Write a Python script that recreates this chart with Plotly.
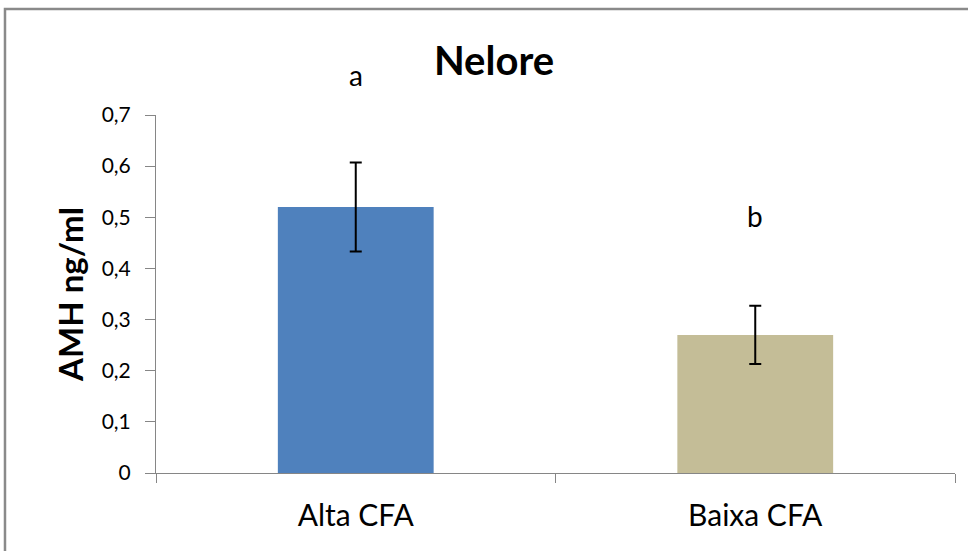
import plotly.graph_objects as go

# AMH concentration by follicle-count group (Nelore cattle)
categories = ["Alta CFA", "Baixa CFA"]
amh_means = [0.52, 0.27]
amh_err = [0.087, 0.057]
bar_colors = ["#4f81bd", "#c4bd97"]
sig_letters = ["a", "b"]
sig_letter_y = [0.815, 0.54]
y_tick_vals = [0, 0.1, 0.2, 0.3, 0.4, 0.5, 0.6, 0.7]
y_tick_text = ["0", "0,1", "0,2", "0,3", "0,4", "0,5", "0,6", "0,7"]
y_max = 0.7

FONT = "Lato, Calibri, sans-serif"
AXIS_GRAY = "#868686"

fig = go.Figure()
fig.add_trace(go.Bar(
    x=categories,
    y=amh_means,
    width=0.39,
    marker=dict(color=bar_colors, line=dict(width=0)),
    error_y=dict(type="data", array=amh_err, visible=True,
                 color="black", thickness=2, width=6),
    showlegend=False,
))

# significance letters (placed in axis-domain units so they may sit above the range)
for cat, letter, ly in zip(categories, sig_letters, sig_letter_y):
    fig.add_annotation(x=cat, y=ly / y_max, text=letter, showarrow=False,
                       xref="x", yref="y domain",
                       font=dict(family=FONT, size=28, color="black"))

# outer chart-area frame
fig.add_shape(type="rect", xref="paper", yref="paper",
              x0=-0.189, x1=1.2, y0=-0.5, y1=1.296,
              line=dict(color="#8a8a8a", width=2.5), fillcolor="rgba(0,0,0,0)",
              layer="below")

fig.update_layout(
    width=968, height=551,
    margin=dict(l=156, r=13, t=115, b=78),
    paper_bgcolor="white", plot_bgcolor="white",
    title=dict(text="<b>Nelore</b>", x=494 / 968, xref="container", xanchor="center",
               y=1 - 61 / 551, yref="container", yanchor="middle",
               font=dict(family=FONT, size=40, color="black")),
    xaxis=dict(
        type="category", range=[-0.5, 1.5],
        showline=True, linecolor=AXIS_GRAY, linewidth=1,
        ticks="outside", tickson="boundaries", ticklen=9, tickcolor=AXIS_GRAY,
        tickfont=dict(family=FONT, size=30, color="black"),
        ticklabelstandoff=16,
        showgrid=False, zeroline=False,
    ),
    yaxis=dict(
        range=[0, y_max],
        tickvals=y_tick_vals, ticktext=y_tick_text,
        showline=True, linecolor=AXIS_GRAY, linewidth=1,
        ticks="outside", ticklen=10, tickcolor=AXIS_GRAY,
        tickfont=dict(family=FONT, size=21, color="black"),
        ticklabelstandoff=10,
        showgrid=False, zeroline=False,
        title=dict(text="<b>AMH ng/ml</b>", standoff=8,
                   font=dict(family=FONT, size=33, color="black")),
    ),
)

fig.write_html("out.html")
